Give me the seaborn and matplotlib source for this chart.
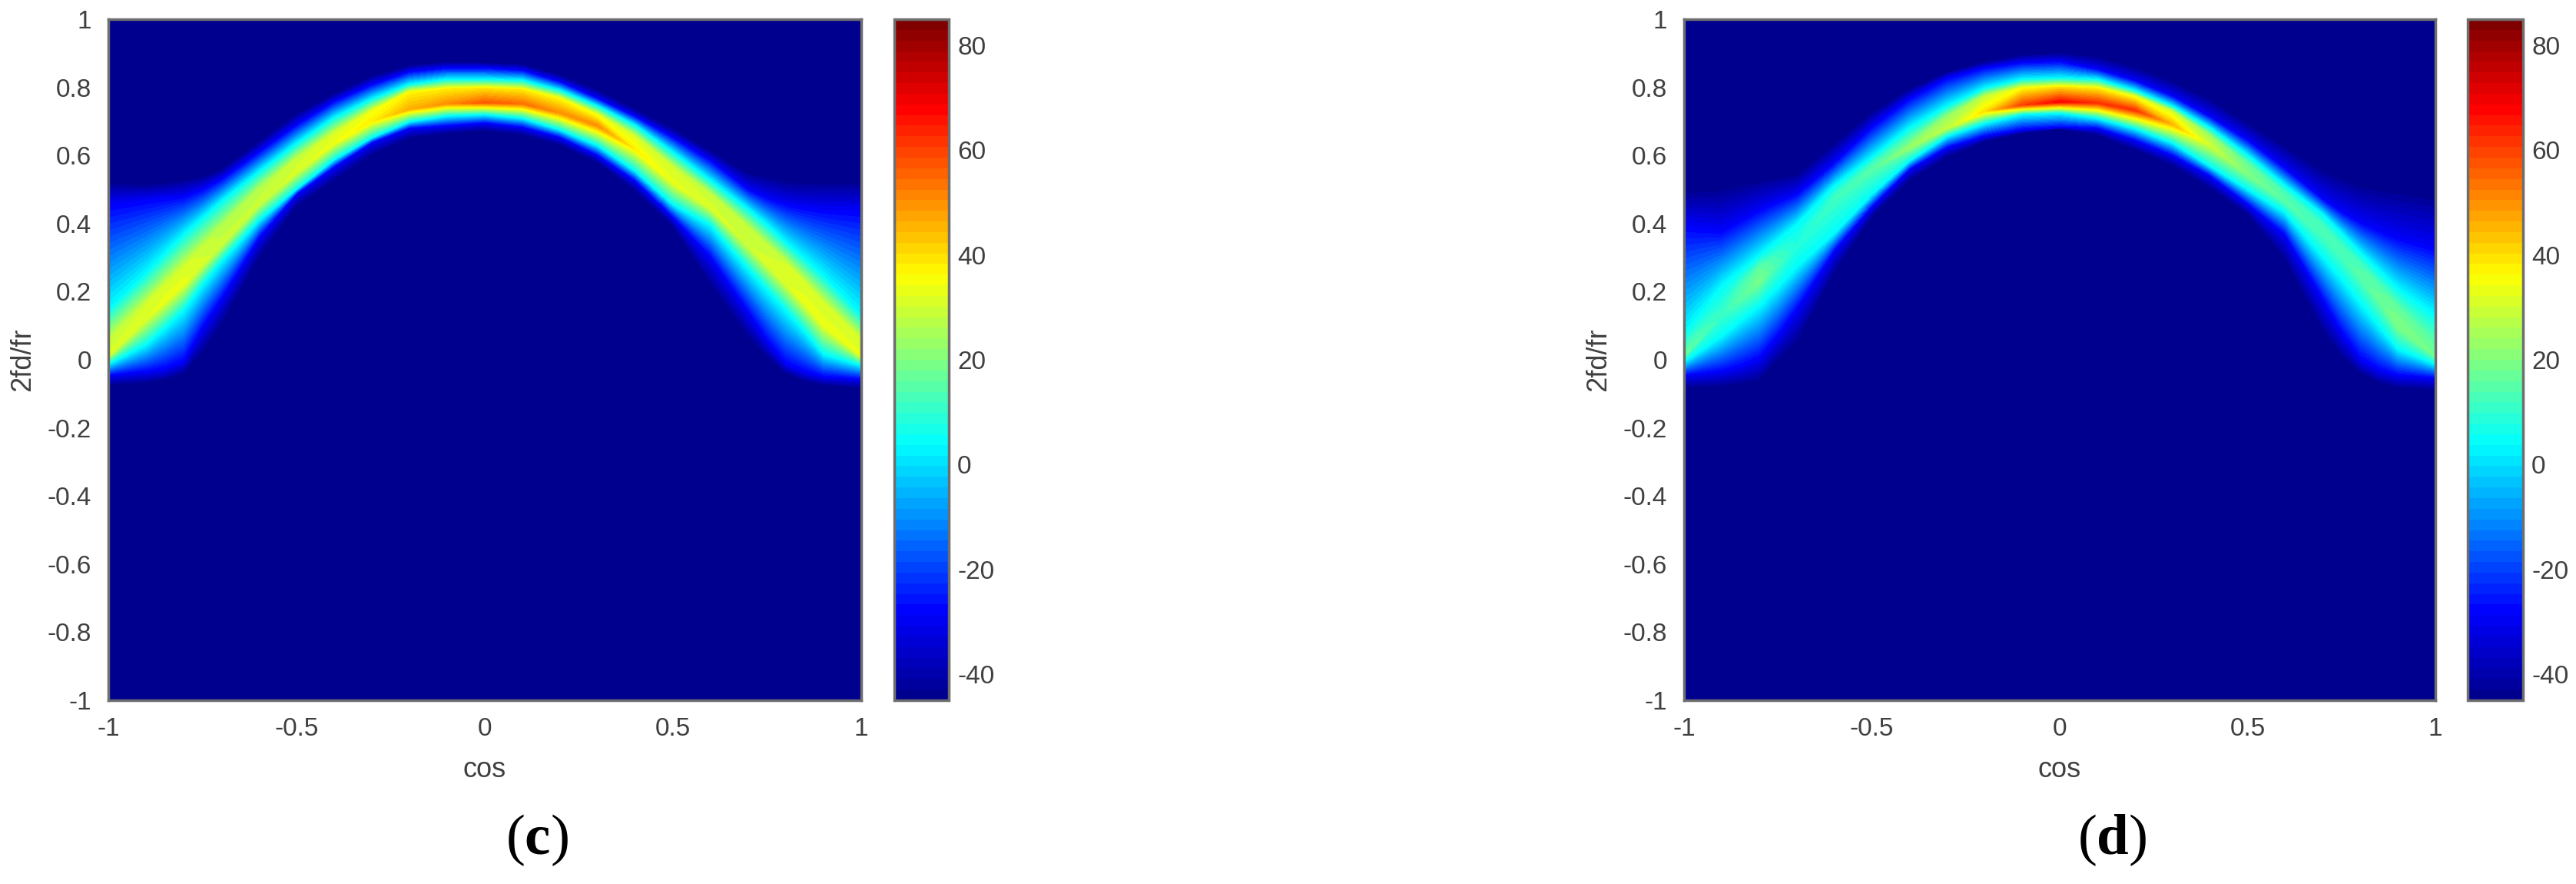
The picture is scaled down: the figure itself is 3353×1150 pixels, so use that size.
"""
Two Doppler-angle power maps (c) and (d) with jet colorbars.
The band values are read off the picture: for each cos column, the 2fd/fr height
where the colour reaches navy, blue and cyan, plus the crest and its dB level.
"""
import numpy as np
import matplotlib
matplotlib.use('Agg')
import matplotlib.pyplot as plt
from matplotlib.colors import LinearSegmentedColormap
import seaborn as sns

cos_cols = [-1.0, -0.9, -0.85, -0.8, -0.75, -0.7, -0.6, -0.5, -0.4, -0.3, -0.2, -0.1, 0.0,
            0.1, 0.2, 0.3, 0.4, 0.5, 0.6, 0.7, 0.75, 0.8, 0.85, 0.9, 1.0]
x_ticks = [-1, -0.5, 0, 0.5, 1]
y_ticks = [1, 0.8, 0.6, 0.4, 0.2, 0, -0.2, -0.4, -0.6, -0.8, -1]
cbar_ticks = [-40, -20, 0, 20, 40, 60, 80]
db_min, db_max = -45, 85
db_navy, db_blue, db_cyan = -45, -29, 4
floor_table = [[-45] * 4] * 10

# panel (c)
c_navy_lo = [-.076, -.07, -.061, -.042, .018, .10, .298, .449, .525, .60, .65, .664, .672, .66, .63, .578, .494, .389, .215, .063, .003, -.042, -.065, -.076, -.084]
c_blue_lo = [-.046, -.035, -.027, -.005, .094, .177, .358, .487, .566, .638, .68, .687, .695, .683, .653, .60, .525, .419, .30, .139, .056, -.012, -.035, -.05, -.057]
c_cyan_lo = [-.012, .045, .094, .147, .222, .29, .411, .502, .589, .653, .70, .717, .721, .71, .676, .63, .555, .457, .396, .268, .207, .147, .085, .018, -.016]
c_crest = [.01, .12, .17, .22, .28, .335, .455, .55, .635, .70, .736, .752, .755, .752, .725, .687, .618, .52, .445, .335, .28, .225, .165, .10, .01]
c_top = [.06, .165, .215, .27, .33, .39, .50, .59, .665, .73, .785, .795, .797, .793, .767, .72, .655, .565, .485, .39, .335, .285, .225, .165, .06]
c_cyan_hi = [.147, .252, .31, .366, .415, .464, .551, .634, .71, .765, .808, .823, .823, .82, .79, .744, .687, .608, .525, .441, .395, .343, .295, .245, .13]
c_blue_hi = [.457, .47, .475, .48, .50, .53, .61, .69, .759, .808, .846, .857, .857, .85, .816, .767, .714, .653, .585, .50, .475, .457, .447, .441, .44]
c_navy_hi = [.525, .517, .523, .53, .54, .56, .642, .725, .782, .835, .865, .876, .873, .869, .838, .793, .736, .68, .615, .551, .54, .528, .525, .525, .525]
c_crest_db = [31, 32, 33, 33, 31, 29, 29, 31, 34, 38, 46, 50, 57, 54, 50, 50, 38, 33, 31, 30, 31, 32, 33, 33, 33]
c_top_db = [28, 30, 31, 31, 29, 27, 27, 29, 31, 34, 37, 38, 39, 38, 36, 33, 31, 30, 29, 28, 29, 30, 31, 31, 30]

# panel (d)
d_navy_lo = [-.084, -.08, -.075, -.065, -.005, .045, .252, .419, .525, .593, .64, .665, .677, .66, .615, .57, .502, .426, .29, .079, .005, -.042, -.07, -.084, -.09]
d_blue_lo = [-.046, -.035, -.02, .003, .07, .147, .32, .449, .559, .623, .657, .676, .683, .68, .645, .60, .54, .457, .366, .177, .08, .003, -.03, -.046, -.054]
d_cyan_lo = [-.005, .07, .115, .158, .215, .275, .373, .487, .585, .657, .695, .721, .725, .71, .68, .638, .57, .502, .434, .305, .24, .169, .10, .033, -.012]
d_crest = [.01, .13, .18, .23, .28, .328, .472, .559, .623, .68, .729, .748, .757, .754, .733, .691, .63, .545, .465, .365, .305, .245, .175, .10, .01]
d_top = [.03, .16, .215, .27, .31, .358, .487, .578, .646, .714, .774, .797, .80, .797, .774, .729, .657, .575, .49, .395, .335, .28, .215, .15, .05]
d_cyan_hi = [.079, .215, .26, .305, .35, .396, .51, .593, .68, .744, .797, .823, .827, .823, .79, .744, .68, .60, .51, .426, .37, .313, .26, .207, .13]
d_blue_hi = [.396, .38, .41, .44, .465, .487, .578, .684, .767, .827, .857, .873, .876, .853, .82, .774, .714, .645, .562, .472, .435, .404, .38, .358, .328]
d_navy_hi = [.50, .51, .52, .53, .54, .547, .638, .729, .797, .846, .876, .895, .903, .891, .861, .82, .767, .698, .63, .562, .54, .517, .51, .502, .487]
d_crest_db = [17, 11, 15, 19, 13, 8, 12, 15, 23, 28, 40, 60, 68, 62, 62, 45, 30, 20, 15, 13, 13, 15, 17, 20, 18]
d_top_db = [14, 9, 13, 16, 11, 7, 10, 11, 16, 23, 28, 36, 40, 38, 33, 30, 24, 17, 13, 12, 12, 13, 15, 17, 15]

W, H = 3353, 1150
TEXT = '#404040'
EDGE = '#6e6e6e'

sns.set_theme(style='white')
plt.rcParams['font.family'] = ['Liberation Sans', 'DejaVu Sans']
plt.rcParams['mathtext.fontset'] = 'custom'
plt.rcParams['mathtext.rm'] = 'Liberation Serif'
plt.rcParams['mathtext.bf'] = 'Liberation Serif:bold'

# MATLAB jet(64), the colorbar shows its 64 steps
jet64 = LinearSegmentedColormap.from_list(
    'jet64',
    [(0, (0, 0, .5625)), (.125, (0, 0, 1)), (.375, (0, 1, 1)),
     (.625, (1, 1, 0)), (.875, (1, 0, 0)), (1, (.5, 0, 0))], N=64)


def axes_px(fig, left, top, right, bottom):
    return fig.add_axes([left / W, 1 - bottom / H, (right - left) / W, (bottom - top) / H])


def draw_panel(fig, left, right, cb_left, cb_right, label, rows, crest_db, top_db):
    ax = axes_px(fig, left, 25, right, 911)
    cax = axes_px(fig, cb_left, 25, cb_right, 911)
    sns.heatmap(floor_table, ax=ax, cbar_ax=cax, cmap=jet64, vmin=db_min, vmax=db_max,
                xticklabels=False, yticklabels=False, cbar_kws={'ticks': cbar_ticks})

    # the band, on a mesh that follows the read contours
    X = np.tile((np.array(cos_cols) + 1) * 2, (len(rows), 1))
    Y = (1 - np.array(rows)) * 5
    n = len(cos_cols)
    Z = np.array([[db_navy] * n, [db_blue] * n, [db_cyan] * n, crest_db, top_db,
                  [db_cyan] * n, [db_blue] * n, [db_navy] * n], dtype=float)
    ax.contourf(X, Y, Z, levels=np.linspace(db_min, db_max, 65), cmap=jet64,
                vmin=db_min, vmax=db_max, zorder=1)

    ax.set_xticks([(t + 1) * 2 for t in x_ticks])
    ax.set_xticklabels([f'{t:g}' for t in x_ticks])
    ax.set_yticks([(1 - t) * 5 for t in y_ticks])
    ax.set_yticklabels([f'{t:g}' for t in y_ticks], rotation=0)
    ax.tick_params(direction='in', length=9, width=2, color='#303060', top=True, right=True,
                   labelsize=24, labelcolor=TEXT, pad=16)
    for spine in ax.spines.values():
        spine.set_visible(True)
        spine.set_color(EDGE)
        spine.set_linewidth(2.5)
    ax.set_xlabel('cos', fontsize=26, color=TEXT, labelpad=14)
    ax.set_ylabel('2fd/fr', fontsize=26, color=TEXT, labelpad=10)

    cb = ax.collections[0].colorbar
    cb.set_ticklabels([str(t) for t in cbar_ticks])
    cb.ax.tick_params(direction='in', length=9, width=2, color='#404040', labelsize=24,
                      labelcolor=TEXT, pad=8)
    cb.outline.set_visible(True)
    cb.outline.set_edgecolor(EDGE)
    cb.outline.set_linewidth(2.5)

    centre = (left + right) / 2 + 68
    fig.text(centre / W, 1 - 1093 / H, f'(${{\\mathbf{{{label}}}}}$)', fontsize=54,
             color='black', ha='center', va='center', family='Liberation Serif')
    return ax


fig = plt.figure(figsize=(W / 100, H / 100), dpi=100, facecolor='white')
draw_panel(fig, 141, 1121, 1164, 1235, 'c',
           [c_navy_lo, c_blue_lo, c_cyan_lo, c_crest, c_top, c_cyan_hi, c_blue_hi, c_navy_hi],
           c_crest_db, c_top_db)
draw_panel(fig, 2192, 3170, 3212, 3284, 'd',
           [d_navy_lo, d_blue_lo, d_cyan_lo, d_crest, d_top, d_cyan_hi, d_blue_hi, d_navy_hi],
           d_crest_db, d_top_db)
fig.savefig('out.png', dpi=100, facecolor='white')
